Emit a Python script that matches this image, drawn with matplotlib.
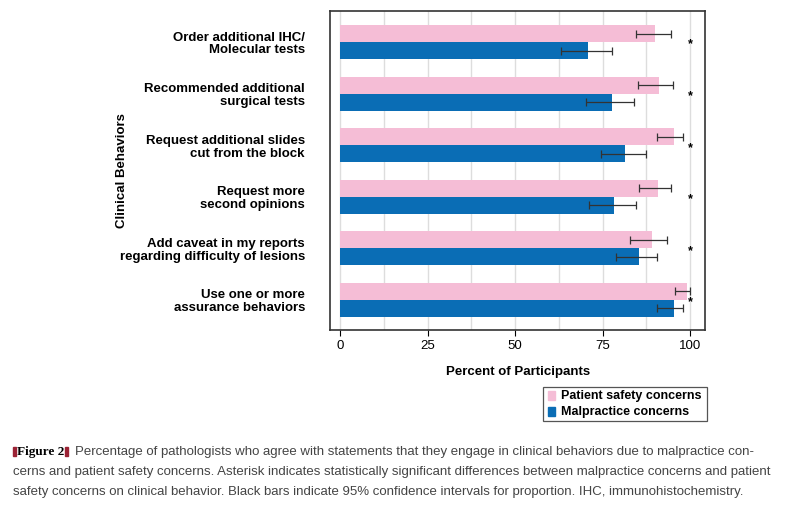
import matplotlib
matplotlib.use("Agg")
import matplotlib.pyplot as plt
import numpy as np
from matplotlib.patches import Rectangle

categories = ["Order additional IHC/\nMolecular tests", "Recommended additional\nsurgical tests",
              "Request additional slides\ncut from the block", "Request more\nsecond opinions",
              "Add caveat in my reports\nregarding difficulty of lesions", "Use one or more\nassurance behaviors"]
safety = [90.1, 91.0, 95.4, 90.8, 89.1, 99.1]
safety_lo = [84.5, 85.1, 90.5, 85.4, 82.9, 95.7]
safety_hi = [94.6, 95.1, 98.1, 94.5, 93.5, 100.0]
malp = [70.9, 77.6, 81.5, 78.3, 85.3, 95.4]
malp_lo = [63.0, 70.3, 74.4, 71.2, 78.7, 90.5]
malp_hi = [77.8, 84.0, 87.4, 84.5, 90.5, 98.1]
signif = [True] * 6
xticks = [0, 25, 50, 75, 100]

pink = "#f5bdd6"; blue = "#0a6db5"
plt.rcParams['font.family'] = ['Liberation Sans', 'DejaVu Sans']
fig = plt.figure(figsize=(8, 5.05), dpi=100)
ax = fig.add_axes([0.4125, 0.347, 0.469, 0.631])
y = np.arange(len(categories))
h = 0.33
ax.barh(y - h/2, safety, height=h, color=pink, zorder=2)
ax.barh(y + h/2, malp, height=h, color=blue, zorder=2)
s = np.array(safety); m = np.array(malp)
ax.errorbar(s, y - h/2, xerr=[s - np.array(safety_lo), np.array(safety_hi) - s], fmt='none',
            ecolor='#333333', elinewidth=0.9, capsize=3, capthick=0.9, zorder=3)
ax.errorbar(m, y + h/2, xerr=[m - np.array(malp_lo), np.array(malp_hi) - m], fmt='none',
            ecolor='#333333', elinewidth=0.9, capsize=3, capthick=0.9, zorder=3)
for i, sg in enumerate(signif):
    if sg:
        ax.text(100, y[i] + 0.05, "*", ha='center', va='center', fontsize=9, fontweight='bold', zorder=4)
ax.set_xlim(-2.9, 104.3)
ax.set_ylim(5.58, -0.6)
ax.set_xticks(xticks)
ax.set_xticklabels([str(t) for t in xticks], fontsize=9.5)
ax.set_xticks(np.arange(0, 101, 12.5), minor=True)
ax.grid(axis='x', which='both', color='#dddddd', lw=1, zorder=0)
ax.tick_params(axis='x', which='minor', length=0)
ax.tick_params(axis='x', which='major', length=4)
ax.set_yticks(y)
ax.set_yticklabels(categories, fontsize=9.5, fontweight='bold', linespacing=1.1)
ax.tick_params(axis='y', length=0, pad=18)
for sp in ax.spines.values():
    sp.set_color('#333333'); sp.set_linewidth(1.2)
ax.set_xlabel("Percent of Participants", fontsize=9.5, fontweight='bold', labelpad=10)
fig.text(0.152, 0.663, "Clinical Behaviors", rotation=90, ha='center', va='center', fontsize=9.5, fontweight='bold')

# legend
fig.patches.append(Rectangle((543/800, 1-421/505), 164/800, 34/505, transform=fig.transFigure,
                             fill=False, edgecolor='#555555', lw=0.9))
fig.patches.append(Rectangle((548/800, 1-400/505), 7/800, 9/505, transform=fig.transFigure, color=pink))
fig.patches.append(Rectangle((548/800, 1-416/505), 7/800, 9/505, transform=fig.transFigure, color=blue))
fig.text(561/800, 1-395.5/505, "Patient safety concerns", fontsize=9, fontweight='bold', va='center')
fig.text(561/800, 1-411.5/505, "Malpractice concerns", fontsize=9, fontweight='bold', va='center')

cap = ["Percentage of pathologists who agree with statements that they engage in clinical behaviors due to malpractice con-",
       "cerns and patient safety concerns. Asterisk indicates statistically significant differences between malpractice concerns and patient",
       "safety concerns on clinical behavior. Black bars indicate 95% confidence intervals for proportion. IHC, immunohistochemistry."]
fig.patches.append(Rectangle((13/800, 1-456/505), 3/800, 9/505, transform=fig.transFigure, color='#9b2335'))
fig.text(17/800, 1-452/505, "Figure 2", fontsize=9.5, fontweight='bold', family='Liberation Serif', va='center')
fig.patches.append(Rectangle((65/800, 1-456/505), 3/800, 9/505, transform=fig.transFigure, color='#9b2335'))
fig.text(75/800, 1-452/505, cap[0], fontsize=9.5, color='#444444', va='center')
fig.text(13/800, 1-472/505, cap[1], fontsize=9.5, color='#444444', va='center')
fig.text(13/800, 1-492/505, cap[2], fontsize=9.5, color='#444444', va='center')
fig.savefig("out.png", dpi=100)
